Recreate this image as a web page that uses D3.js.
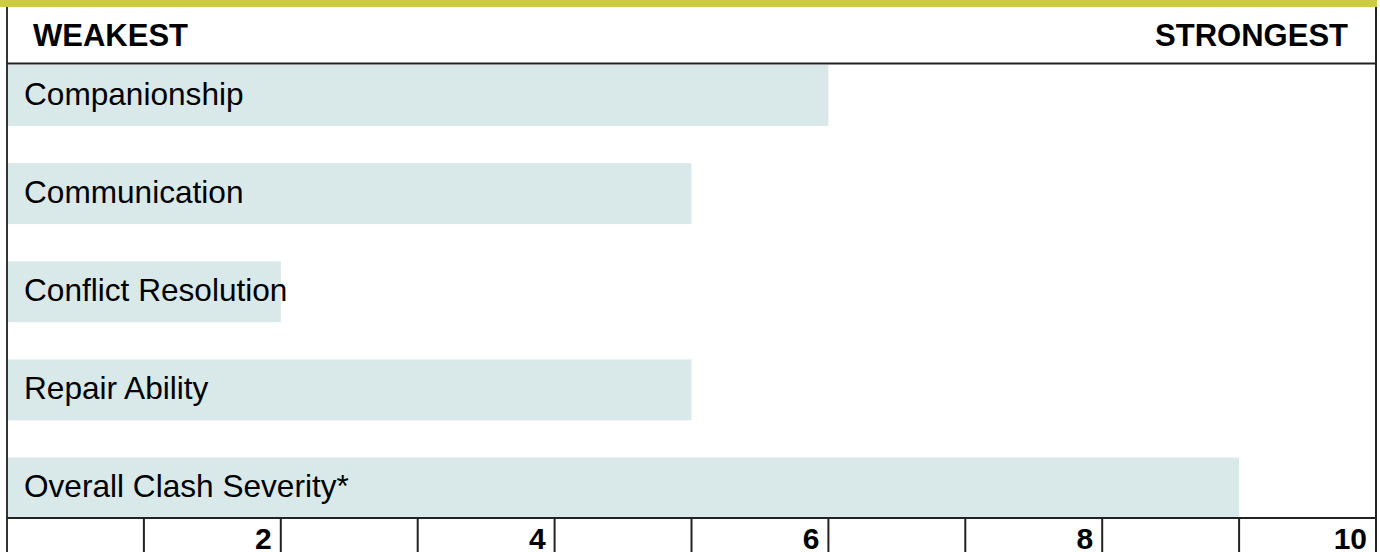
<!DOCTYPE html>
<html>
<head>
<meta charset="utf-8">
<script src="https://cdn.jsdelivr.net/npm/d3@7"></script>
<style>
  html, body { margin: 0; padding: 0; background: #fff; }
  svg { display: block; }
  text { font-family: "Liberation Sans", Arial, sans-serif; fill: #000; }
</style>
</head>
<body>
<svg id="chart" width="1380" height="552"></svg>
<script>
const categories = ["Companionship", "Communication", "Conflict Resolution", "Repair Ability", "Overall Clash Severity*"];
const values = [6, 5, 2, 5, 9];
const tickValues = [1, 2, 3, 4, 5, 6, 7, 8, 9, 10];
const tickLabels = ["", "2", "", "4", "", "6", "", "8", "", "10"];
const headerLeft = "WEAKEST";
const headerRight = "STRONGEST";

const W = 1380, H = 552;
const left = 7, right = 1376;
const headerBottom = 63.5, axisTop = 518;

const svg = d3.select("#chart");

const x = d3.scaleLinear().domain([0, 10]).range([left, right]);
const y = d3.scaleBand().domain(categories).range([65, 518.5]).paddingInner(0.379).paddingOuter(0);

// top yellow band
svg.append("rect").attr("x", 0).attr("y", 0).attr("width", 1377).attr("height", 7).attr("fill", "#cccc3f");

// bars
svg.append("g").selectAll("rect").data(categories).join("rect")
  .attr("x", x(0) + 1)
  .attr("y", d => y(d))
  .attr("width", (d, i) => x(values[i]) - x(0) - 1)
  .attr("height", y.bandwidth())
  .attr("fill", "#d9e8e8");

// labels
svg.append("g").selectAll("text").data(categories).join("text")
  .attr("x", 24)
  .attr("y", d => y(d) + 39.5)
  .attr("font-size", 31.6)
  .text(d => d);

// header
svg.append("text").attr("x", 33).attr("y", 45.5).attr("font-size", 31).attr("font-weight", "bold").text(headerLeft);
svg.append("text").attr("x", 1348).attr("y", 45.5).attr("font-size", 31).attr("font-weight", "bold").attr("text-anchor", "end").text(headerRight);

// frame lines
const lineColor = "#222";
svg.append("line").attr("x1", left).attr("x2", left).attr("y1", 7).attr("y2", H).attr("stroke", "#333").attr("stroke-width", 2);
svg.append("line").attr("x1", right).attr("x2", right).attr("y1", 7).attr("y2", H).attr("stroke", lineColor).attr("stroke-width", 2);
svg.append("line").attr("x1", left).attr("x2", right + 1).attr("y1", headerBottom).attr("y2", headerBottom).attr("stroke", lineColor).attr("stroke-width", 2);
svg.append("line").attr("x1", left).attr("x2", right + 1).attr("y1", axisTop).attr("y2", axisTop).attr("stroke", lineColor).attr("stroke-width", 2);

// axis cells
const axis = svg.append("g");
axis.selectAll("line").data(tickValues).join("line")
  .attr("x1", d => x(d)).attr("x2", d => x(d))
  .attr("y1", axisTop).attr("y2", H)
  .attr("stroke", lineColor).attr("stroke-width", 2);
axis.selectAll("text").data(tickValues).join("text")
  .attr("x", d => x(d) - 9)
  .attr("y", 548.5)
  .attr("text-anchor", "end")
  .attr("font-size", 30)
  .attr("font-weight", "bold")
  .text((d, i) => tickLabels[i]);
</script>
</body>
</html>
